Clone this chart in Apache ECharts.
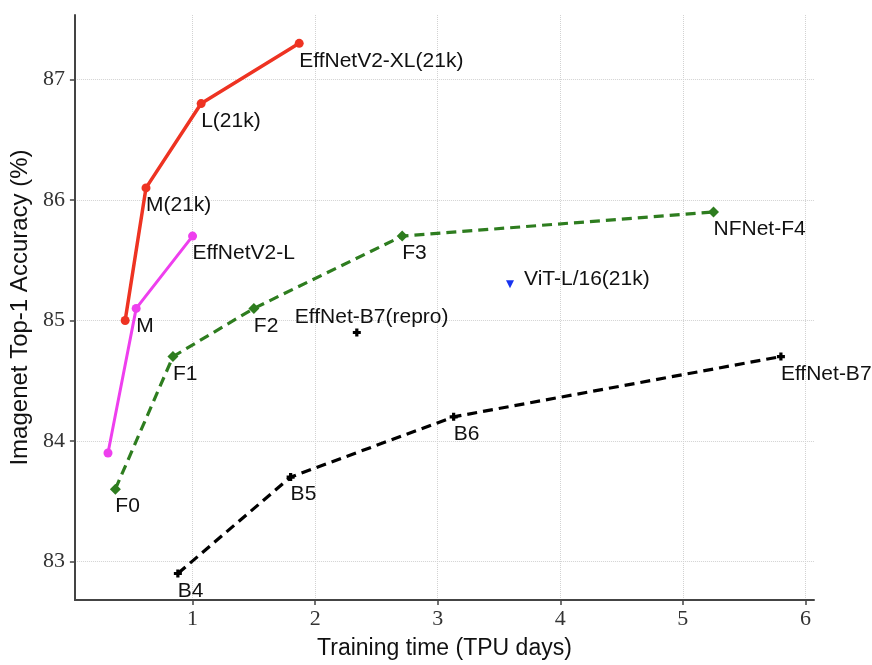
<!DOCTYPE html>
<html>
<head>
<meta charset="utf-8">
<script src="https://cdn.jsdelivr.net/npm/echarts@6/dist/echarts.min.js"></script>
<style>
  html, body { margin: 0; padding: 0; background: #ffffff; }
  #chart { width: 872px; height: 665px; }
</style>
</head>
<body>
<div id="chart"></div>
<script>
// EfficientNetV2 (ImageNet21k pretrained)
var v2_21kX = [0.45, 0.62, 1.07, 1.87];
var v2_21kY = [85.0, 86.1, 86.8, 87.3];
var v2_21kNames = ['', 'M(21k)', 'L(21k)', 'EffNetV2-XL(21k)'];
// EfficientNetV2 (ImageNet1k)
var v2X = [0.31, 0.54, 1.00];
var v2Y = [83.9, 85.1, 85.7];
var v2Names = ['', 'M', 'EffNetV2-L'];
// NFNet
var nfX = [0.37, 0.84, 1.50, 2.71, 5.25];
var nfY = [83.6, 84.7, 85.1, 85.7, 85.9];
var nfNames = ['F0', 'F1', 'F2', 'F3', 'NFNet-F4'];
// EfficientNet
var effX = [0.88, 1.80, 3.13, 5.80];
var effY = [82.9, 83.7, 84.2, 84.7];
var effNames = ['B4', 'B5', 'B6', 'EffNet-B7'];
// single points
var reproPoint = [2.34, 84.9];
var vitPoint = [3.59, 85.3];

var xTicks = [1, 2, 3, 4, 5, 6];
var yTicks = [83, 84, 85, 86, 87];

function pts(xs, ys, names) {
    var out = [];
    for (var i = 0; i < xs.length; i++) {
        out.push({ value: [xs[i], ys[i]], name: names[i] });
    }
    return out;
}

var labelStyle = {
    show: true,
    position: 'inside',
    align: 'left',
    verticalAlign: 'top',
    offset: [0, 7],
    fontFamily: 'Liberation Sans, Arial, sans-serif',
    fontSize: 21,
    lineHeight: 21,
    color: '#111',
    formatter: function(p) { return p.name; }
};

// bold little plus used for EfficientNet points
var plusPath = 'path://M3,0 L7,0 L7,3 L10,3 L10,7 L7,7 L7,10 L3,10 L3,7 L0,7 L0,3 L3,3 Z';

var myChart = echarts.init(document.getElementById('chart'));
var option = {
    animation: false,
    grid: { left: 73, right: 58, top: 15, bottom: 60 },
    xAxis: {
        type: 'value',
        min: 0.04,
        max: 6.07,
        splitNumber: 6,
        name: 'Training time (TPU days)',
        nameLocation: 'middle',
        nameGap: 37,
        nameTextStyle: { fontFamily: 'Liberation Sans, Arial, sans-serif', fontSize: 23, color: '#111' },
        axisLine: { lineStyle: { color: '#444', width: 2 } },
        axisTick: { length: 5, lineStyle: { color: '#444', width: 1.5 } },
        axisLabel: {
            showMinLabel: false,
            showMaxLabel: false,
            margin: 8,
            fontFamily: 'Liberation Serif, serif',
            fontSize: 22,
            color: '#333',
            formatter: function(v) { return xTicks.indexOf(v) >= 0 ? String(v) : ''; }
        },
        splitLine: { show: true, showMinLine: false, showMaxLine: false, lineStyle: { color: '#d2d2d2', type: 'dotted', width: 1 } }
    },
    yAxis: {
        type: 'value',
        min: 82.68,
        max: 87.535,
        splitNumber: 5,
        name: 'Imagenet Top-1 Accuracy (%)',
        nameLocation: 'middle',
        nameGap: 41,
        nameTextStyle: { fontFamily: 'Liberation Sans, Arial, sans-serif', fontSize: 24, color: '#111' },
        axisLine: { show: true, lineStyle: { color: '#444', width: 2 } },
        axisTick: { show: true, length: 5, lineStyle: { color: '#444', width: 1.5 } },
        axisLabel: {
            showMinLabel: false,
            showMaxLabel: false,
            margin: 10,
            fontFamily: 'Liberation Serif, serif',
            fontSize: 22,
            color: '#333',
            formatter: function(v) { return yTicks.indexOf(v) >= 0 ? String(v) : ''; }
        },
        splitLine: { show: true, showMinLine: false, showMaxLine: false, lineStyle: { color: '#d2d2d2', type: 'dotted', width: 1 } }
    },
    series: [{
        name: 'EffNet',
        type: 'line',
        data: pts(effX, effY, effNames),
        symbol: plusPath,
        symbolSize: 8,
        itemStyle: { color: '#000' },
        lineStyle: { color: '#000', width: 3.2, type: [10, 6] },
        label: labelStyle
    }, {
        name: 'NFNet',
        type: 'line',
        data: pts(nfX, nfY, nfNames),
        symbol: 'diamond',
        symbolSize: 11,
        itemStyle: { color: '#2e7d1f' },
        lineStyle: { color: '#2e7d1f', width: 3.2, type: [10, 6] },
        label: labelStyle
    }, {
        name: 'EffNetV2',
        type: 'line',
        data: pts(v2X, v2Y, v2Names),
        symbol: 'circle',
        symbolSize: 9,
        itemStyle: { color: '#ee3fee' },
        lineStyle: { color: '#ee3fee', width: 3 },
        label: labelStyle
    }, {
        name: 'EffNetV2(21k)',
        type: 'line',
        data: pts(v2_21kX, v2_21kY, v2_21kNames),
        symbol: 'circle',
        symbolSize: 9,
        itemStyle: { color: '#ee3322' },
        lineStyle: { color: '#ee3322', width: 3.5 },
        label: labelStyle
    }, {
        name: 'repro',
        type: 'scatter',
        data: [{ value: reproPoint, name: 'EffNet-B7(repro)' }],
        symbol: plusPath,
        symbolSize: 8,
        itemStyle: { color: '#000', opacity: 1 },
        label: Object.assign({}, labelStyle, { offset: [-62, -26] })
    }, {
        name: 'ViT',
        type: 'scatter',
        data: [{ value: vitPoint, name: 'ViT-L/16(21k)' }],
        symbol: 'triangle',
        symbolRotate: 180,
        symbolSize: 8,
        itemStyle: { color: '#1733f0', opacity: 1 },
        label: Object.assign({}, labelStyle, { offset: [14, -16] })
    }]
};
myChart.setOption(option);
window.onresize = function() {
    myChart.resize();
};
</script>
</body>
</html>
